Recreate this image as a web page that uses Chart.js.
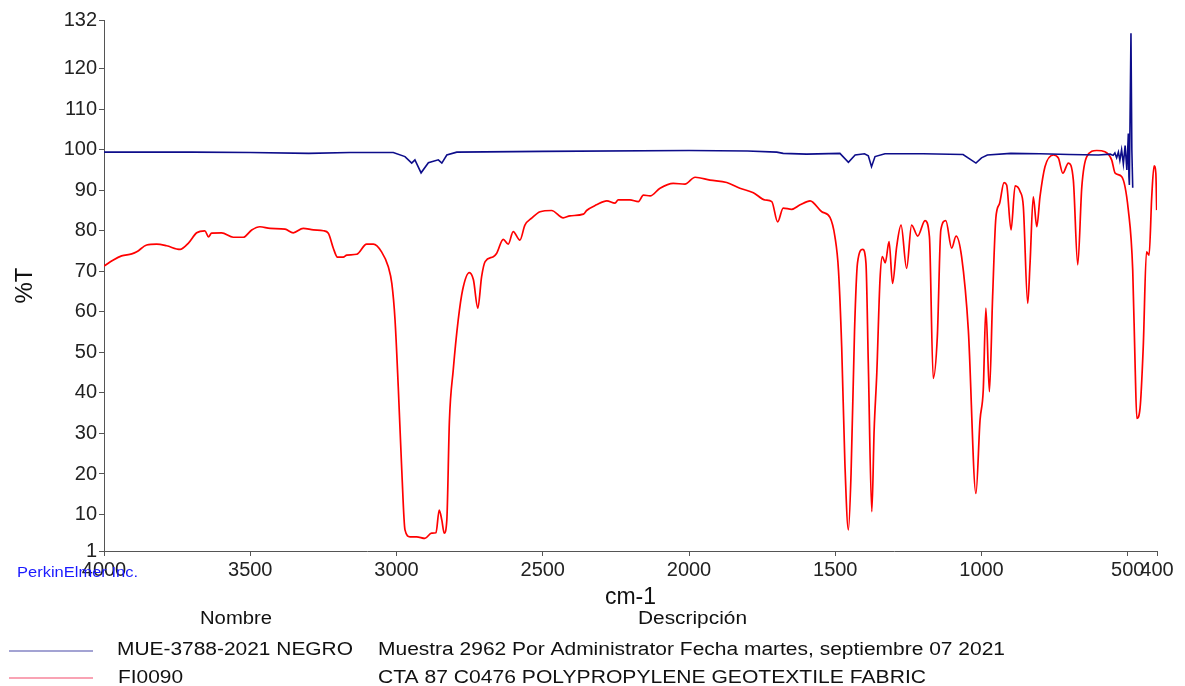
<!DOCTYPE html>
<html lang="es">
<head>
<meta charset="UTF-8">
<title>Espectro IR - MUE-3788-2021 NEGRO</title>
<script src="https://cdn.jsdelivr.net/npm/chart.js"></script>
<style>
  body { margin: 0; background: #fff; }
  .box { position: relative; width: 1185px; height: 686px; }
</style>
</head>
<body>
<div class="box"><canvas id="irChart"></canvas></div>

<script>
// Muestra MUE-3788-2021 NEGRO (azul)
var blueWn = [4000, 3700, 3500, 3300, 3159, 3011, 2971, 2948, 2937, 2916, 2891, 2857, 2845, 2828, 2794,
  2500, 2000, 1800, 1700, 1678, 1598, 1484, 1455, 1432, 1400, 1387, 1376, 1364, 1330, 1200, 1063,
  1019, 1000, 980, 900, 800, 700, 600, 560, 550, 544, 538, 532, 527, 521, 515, 509, 503, 498, 496,
  494.5, 489, 486, 483];
var blueT = [99.4, 99.4, 99.3, 99.1, 99.3, 99.3, 98.3, 96.7, 97.5, 94.3, 96.8, 97.5, 96.7, 98.7, 99.4,
  99.6, 99.8, 99.7, 99.4, 99.1, 98.9, 99.1, 96.9, 98.7, 99.0, 98.5, 95.8, 98.3, 99.0, 99.0, 98.8,
  96.7, 98.0, 98.7, 99.1, 99.0, 98.8, 98.7, 98.9, 98.6, 99.2, 98.0, 99.4, 97.4, 100.0, 96.5, 101.0, 95.0, 104.0, 93.4,
  91.3, 128.7, 100.0, 90.6];

// Referencia FI0090 (rojo)
var redWn = [4000, 3968, 3940, 3905, 3888, 3854, 3820, 3786, 3740, 3712, 3683, 3655, 3643, 3632, 3598,
  3558, 3524, 3495, 3467, 3432, 3381, 3353, 3319, 3284, 3250, 3233, 3216, 3202, 3182, 3170, 3136,
  3102, 3079, 3051, 3028, 3016, 3005, 2994, 2982, 2971, 2954, 2931, 2903, 2880, 2865, 2854, 2845,
  2837, 2828, 2819, 2806, 2789, 2774, 2751, 2737, 2722, 2709, 2697, 2669, 2658, 2635, 2618, 2601,
  2578, 2561, 2538, 2509, 2470, 2430, 2407, 2361, 2350, 2316, 2281, 2253, 2242, 2202, 2173, 2156,
  2133, 2099, 2054, 2014, 1979, 1928, 1871, 1826, 1780, 1740, 1717, 1697, 1678, 1649, 1620, 1586,
  1546, 1518, 1501, 1489, 1478, 1467, 1455, 1446, 1434, 1424, 1406, 1395, 1387, 1375, 1367, 1358,
  1347, 1339, 1329, 1316, 1304, 1290, 1275, 1256, 1239, 1218, 1193, 1178, 1165, 1151, 1139, 1122,
  1102, 1087, 1068, 1045, 1019, 1005, 994, 985, 973, 962, 951, 938, 923, 914, 899, 885, 868, 857,
  842, 834, 823, 811, 800, 783, 754, 737, 722, 703, 686, 671, 657, 640, 606, 578, 555, 543, 521,
  498, 483, 475, 469, 458, 447, 436, 427, 418, 410, 404, 401];
var redT = [71.3, 72.8, 73.8, 74.3, 74.8, 76.5, 76.7, 76.3, 75.4, 76.9, 79.5, 80.0, 78.5, 79.4, 79.5,
  78.4, 78.4, 80.2, 81.0, 80.6, 80.4, 79.5, 80.6, 80.2, 80.0, 79.4, 75.7, 73.5, 73.5, 74.0, 74.2,
  76.7, 76.7, 74.8, 71.1, 67.0, 58.0, 41.5, 21.0, 6.2, 4.5, 4.5, 4.1, 5.4, 5.5, 11.1, 8.6,
  5.4, 8.6, 33.3, 45.7, 58.0, 65.4, 69.7, 67.9, 60.9, 68.7, 72.4, 73.6, 74.4, 77.9, 76.7, 79.8,
  77.7, 81.4, 83.1, 84.7, 85.0, 83.2, 83.7, 84.1, 85.0, 86.4, 87.4, 86.8, 87.6, 87.6, 87.2, 88.8,
  88.6, 90.5, 91.7, 91.5, 93.2, 92.5, 91.9, 90.5, 89.4, 87.6, 87.2, 82.2, 85.6, 85.3, 86.4, 87.4,
  84.7, 83.3, 78.5, 70.3, 51.4, 22.6, 6.2, 20.0, 55.5, 72.0, 75.4, 72.0, 47.3, 10.7, 30.9, 44.8,
  67.9, 73.6, 72.1, 77.3, 67.0, 76.1, 81.4, 70.7, 81.4, 78.7, 82.5, 78.5, 43.6, 53.9, 80.2, 82.5,
  75.7, 78.7, 73.6, 55.5, 15.2, 33.3, 40.7, 60.9, 40.3, 63.7, 83.1, 86.8, 91.9, 91.3, 80.2, 91.1, 89.7, 86.0,
  62.1, 72.0, 88.4, 81.0, 88.4, 95.8, 98.7, 97.9, 94.2, 96.7, 92.5, 71.6, 90.9, 98.3, 99.8, 99.5, 97.5, 94.2, 93.4,
  85.1, 70.3, 47.3, 33.7, 36.2, 51.4, 74.8, 74.0, 88.4, 96.0, 94.2, 85.1];

var xTicks = [4000, 3500, 3000, 2500, 2000, 1500, 1000, 500, 400];
var yTicks = [1, 10, 20, 30, 40, 50, 60, 70, 80, 90, 100, 110, 120, 132];

function toPoints(xs, ys) {
  return xs.map(function (x, i) { return { x: x, y: ys[i] }; });
}

var FONT = '"Liberation Sans", Arial, sans-serif';

// texto estirado al ancho del original
function fitText(ctx, text, x, y, w) {
  var m = ctx.measureText(text).width;
  ctx.save();
  ctx.translate(x, y);
  ctx.scale(w / m, 1);
  ctx.fillText(text, 0, 0);
  ctx.restore();
}

var tablaNombres = {
  id: 'tablaNombres',
  afterDraw: function (chart) {
    var ctx = chart.ctx;
    ctx.save();
    ctx.textBaseline = 'middle';
    ctx.textAlign = 'left';

    ctx.fillStyle = '#1a1aff';
    ctx.font = '15px ' + FONT;
    fitText(ctx, 'PerkinElmer Inc.', 17, 573, 121);

    ctx.fillStyle = '#111';
    ctx.font = '18px ' + FONT;
    fitText(ctx, 'Nombre', 200, 619, 72);
    fitText(ctx, 'Descripción', 638, 619, 109);
    fitText(ctx, 'MUE-3788-2021 NEGRO', 117, 650, 236);
    fitText(ctx, 'Muestra 2962 Por Administrator Fecha martes, septiembre 07 2021', 378, 650, 627);
    fitText(ctx, 'FI0090', 118, 678, 65);
    fitText(ctx, 'CTA 87 C0476 POLYPROPYLENE GEOTEXTILE FABRIC', 378, 678, 548);

    ctx.lineWidth = 1.5;
    ctx.strokeStyle = '#8585c4';
    ctx.beginPath(); ctx.moveTo(9, 651); ctx.lineTo(93, 651); ctx.stroke();
    ctx.strokeStyle = '#f7849b';
    ctx.beginPath(); ctx.moveTo(9, 678); ctx.lineTo(93, 678); ctx.stroke();
    ctx.restore();
  }
};

var plainLabel = function (v) { return String(v); };

var ctx = document.getElementById('irChart').getContext('2d');
var irChart = new Chart(ctx, {
  type: 'line',
  data: {
    datasets: [{
      label: 'MUE-3788-2021 NEGRO',
      data: toPoints(blueWn, blueT),
      borderColor: '#0d0d8a',
      borderWidth: 1.6
    }, {
      label: 'FI0090',
      data: toPoints(redWn, redT),
      borderColor: '#ff0000',
      borderWidth: 1.7,
      cubicInterpolationMode: 'monotone'
    }]
  },
  options: {
    responsive: true,
    maintainAspectRatio: false,
    animation: false,
    parsing: false,
    elements: { point: { radius: 0 }, line: { tension: 0 } },
    layout: { padding: { top: 20, right: 28, bottom: 0, left: 0 } },
    plugins: { legend: { display: false }, tooltip: { enabled: false } },
    scales: {
      x: {
        type: 'linear',
        reverse: true,
        min: 400,
        max: 4000,
        afterBuildTicks: function (s) { s.ticks = xTicks.map(function (v) { return { value: v }; }); },
        afterFit: function (s) { s.height = 135; },
        grid: { drawOnChartArea: false, drawTicks: true, tickLength: 5, color: '#555' },
        border: { color: '#555', width: 1 },
        ticks: { autoSkip: false, maxRotation: 0, padding: 2, color: '#222', font: { size: 20, family: FONT }, callback: plainLabel },
        title: { display: true, text: 'cm-1', color: '#111', font: { size: 23, family: FONT }, padding: { top: 0, bottom: 75 } }
      },
      y: {
        type: 'linear',
        min: 1,
        max: 132,
        afterBuildTicks: function (s) { s.ticks = yTicks.map(function (v) { return { value: v }; }); },
        afterFit: function (s) { s.width = 104; },
        grid: { drawOnChartArea: false, drawTicks: true, tickLength: 5, color: '#555' },
        border: { color: '#555', width: 1 },
        ticks: { autoSkip: false, padding: 2, color: '#222', font: { size: 20, family: FONT }, callback: plainLabel },
        title: { display: true, text: '%T', color: '#111', font: { size: 24, family: FONT }, padding: { top: 11, bottom: 0 } }
      }
    }
  },
  plugins: [tablaNombres]
});
</script>
</body>
</html>
